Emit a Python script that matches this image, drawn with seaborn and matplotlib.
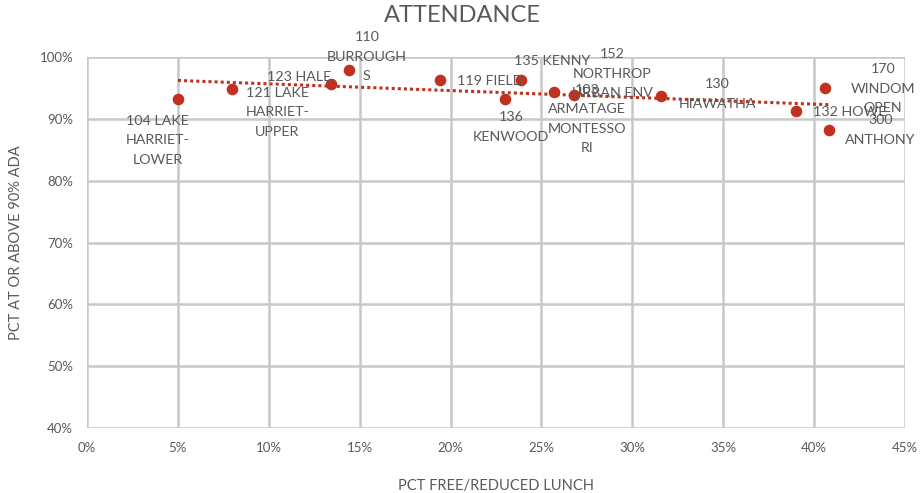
import numpy as np
import pandas as pd
import seaborn as sns
import matplotlib.pyplot as plt
from matplotlib.ticker import PercentFormatter

# school data
schools = ["104 LAKE\nHARRIET-\nLOWER", "121 LAKE\nHARRIET-\nUPPER", "123 HALE",
           "110\nBURROUGH\nS", "119 FIELD", "136\nKENWOOD", "135 KENNY",
           "103\nARMATAGE\nMONTESSO\nRI", "152\nNORTHROP\nURBAN ENV", "130\nHIAWATHA",
           "132 HOWE", "170\nWINDOM\nOPEN", "300\nANTHONY"]
frl = [0.050, 0.080, 0.134, 0.144, 0.194, 0.230, 0.239, 0.257, 0.268, 0.316, 0.390, 0.406, 0.408]
attend = [0.932, 0.948, 0.956, 0.979, 0.963, 0.932, 0.963, 0.943, 0.939, 0.937, 0.913, 0.950, 0.882]

# label offsets from each dot, in pixels (x right, y up), plus alignment
label_dx = [-20, 45, -31, 18, 17, 6, 31, 33, 38, 56, 17, 58, 52]
label_dy = [-41, -23, 7, 13, -1, -28, 19, -27, 21, 2, -1, -1, 0]
label_ha = ["center", "center", "center", "center", "left", "center", "center",
            "center", "center", "center", "left", "center", "center"]

df = pd.DataFrame({"school": schools, "frl": frl, "attend": attend})

red = "#C0311F"
grey = "#595959"

sns.set_style("white")
plt.rcParams["font.family"] = ["Lato", "DejaVu Sans"]

fig = plt.figure(figsize=(9.23, 4.93), dpi=100)
ax = fig.add_axes([0.0943, 0.1318, 0.8862, 0.7526])

# dotted linear trendline over the data range
sns.regplot(data=df, x="frl", y="attend", ax=ax, scatter=False, ci=None,
            line_kws=dict(color=red, linestyle=(0, (1, 1)), linewidth=2.2))
sns.scatterplot(data=df, x="frl", y="attend", ax=ax, color=red, s=70,
                edgecolor=red, linewidth=0, zorder=4)

for i, row in df.iterrows():
    ax.annotate(row["school"], (row["frl"], row["attend"]),
                xytext=(label_dx[i], label_dy[i]), textcoords="offset pixels",
                ha=label_ha[i], va="center", fontsize=10.3, color=grey,
                linespacing=1.75, zorder=5)

ax.set_xlim(0, 0.45)
ax.set_ylim(0.40, 1.00)
ax.set_xticks(np.arange(0, 0.451, 0.05))
ax.set_yticks(np.arange(0.40, 1.001, 0.10))
ax.xaxis.set_major_formatter(PercentFormatter(1.0, decimals=0))
ax.yaxis.set_major_formatter(PercentFormatter(1.0, decimals=0))
ax.grid(True, color="#C8C8C8", linewidth=1.8)
ax.set_axisbelow(True)
for s in ax.spines.values():
    s.set_visible(False)
ax.tick_params(length=0, labelsize=9.5, labelcolor=grey, pad=10)

ax.set_xlabel("PCT FREE/REDUCED LUNCH", fontsize=10.5, color=grey, labelpad=18)
ax.set_ylabel("PCT AT OR ABOVE 90% ADA", fontsize=10.5, color=grey, labelpad=12)
fig.suptitle("ATTENDANCE", x=0.501, y=0.99, fontsize=17, color=grey)

fig.savefig("out.png", dpi=100)
